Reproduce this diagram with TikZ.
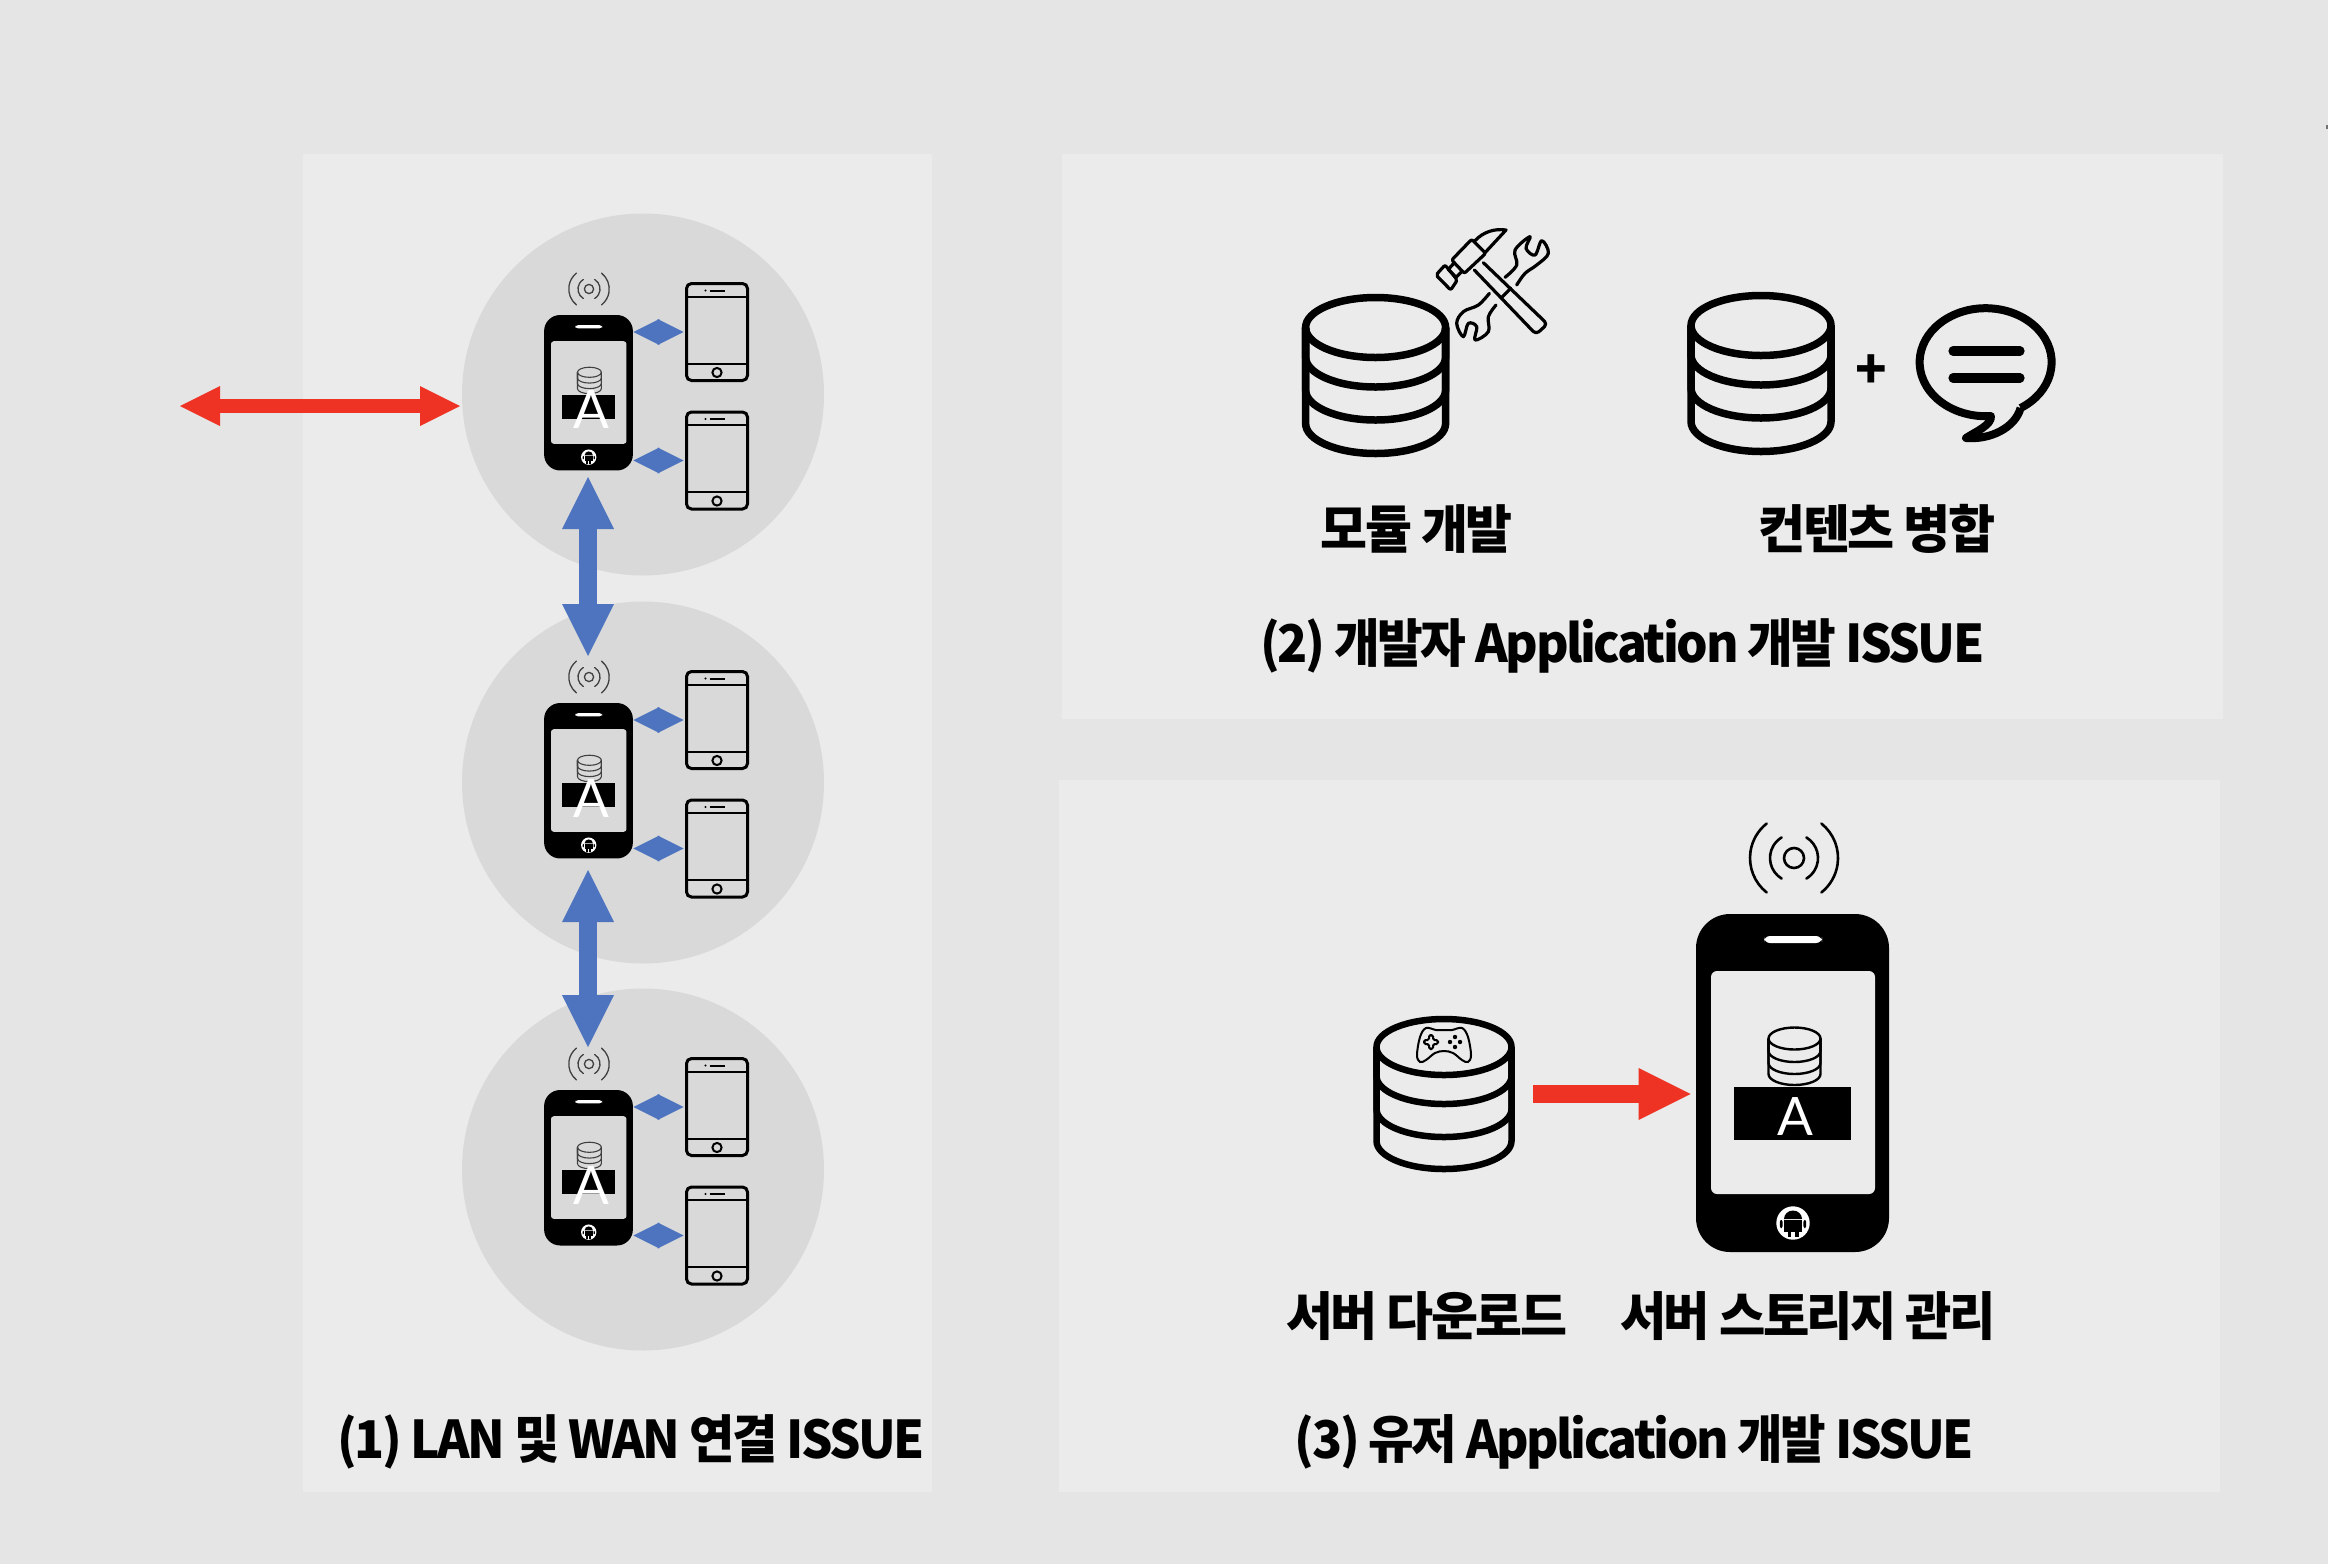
\documentclass[tikz,border=0pt]{standalone}
\usepackage{fontspec}
\usepackage{graphicx}
\usetikzlibrary{arrows.meta,calc}
\newfontfamily\kr{Noto Sans CJK KR}[LetterSpace=-5.0]
\newfontfamily\afont{Lato}
\definecolor{bgc}{HTML}{E5E5E5}
\definecolor{panelc}{HTML}{EBEBEB}
\definecolor{circc}{HTML}{D9D9D9}
\definecolor{bluec}{HTML}{4E74C0}
\definecolor{redc}{HTML}{EE3224}
\newcommand\fitw[2]{\resizebox{\dimexpr #1pt/2\relax}{\height}{#2}}
\tikzset{
  panel/.style={fill=panelc,draw=none},
  bubblecirc/.style={circle,fill=circc,draw=none,minimum size=181pt,inner sep=0pt},
  phonebody/.style={rectangle,fill=black,draw=none,inner sep=0pt},
  tabletbody/.style={rectangle,draw=black,line width=1.5pt,rounded corners=2.5pt,minimum width=30.5pt,minimum height=#1,inner sep=0pt},
  title/.style={anchor=base,text=black,font=\kr\bfseries\fontsize{26pt}{30pt}\selectfont,inner sep=0pt},
  letterA/.style={text=white,font=\afont\fontsize{26.5pt}{30pt}\selectfont,inner sep=0pt},
  bigblue/.style={draw=bluec,line width=9pt,{Triangle[length=26pt,width=26pt,line width=0pt,fill=bluec]}-{Triangle[length=26pt,width=26pt,line width=0pt,fill=bluec]}},
  smallblue/.style={draw=bluec,line width=0.3pt,{Triangle[length=13pt,width=13pt,line width=0pt,fill=bluec]}-{Triangle[length=13pt,width=13pt,line width=0pt,fill=bluec]}},
  redleft/.style={draw=redc,line width=7pt,{Triangle[length=20pt,width=20pt,line width=0pt,fill=redc]}-{Triangle[length=20pt,width=20pt,line width=0pt,fill=redc]}},
  redbig/.style={draw=redc,line width=9pt,-{Triangle[length=26pt,width=26pt,line width=0pt,fill=redc]}},
}
% database icon: cx, cy, rx, ry, line width (px), colour, band offsets
\newcommand\dbicon[7]{%
  \draw[line width={#5*0.5pt},draw=#6] (#1,#2) ellipse[x radius=#3,y radius=#4];
  \foreach \o in {#7}{%
    \draw[line width={#5*0.5pt},draw=#6] (#1-#3,#2) -- (#1-#3,#2+\o) arc[start angle=180,end angle=0,x radius=#3,y radius=#4] -- (#1+#3,#2);
  }%
}
% radio waves: cx, cy, scale, line width px, colour
\newcommand\signal[5]{%
  \begin{scope}[shift={(#1,#2)},scale=#3,draw=#5,line width={#4*0.5pt},line cap=round]
    \draw (0,0) circle[radius=10];
    \draw (0,0) ++(121:24) arc[start angle=121,end angle=239,radius=24];
    \draw (0,0) ++(-59:24) arc[start angle=-59,end angle=59,radius=24];
    \draw (0,0) ++(128.5:44) arc[start angle=128.5,end angle=231.5,radius=44];
    \draw (0,0) ++(-51.5:44) arc[start angle=-51.5,end angle=51.5,radius=44];
  \end{scope}%
}
% phone: name, cx, top, scale, corner radius, screen colour, db lw, db colour
\newcommand\phone[8]{%
  \node[phonebody,rounded corners=#5,minimum width={#4*96.5pt},minimum height={#4*169pt}] (#1) at (#2,#3+#4*169) {};
  \begin{scope}[shift={(#2,#3)},scale=#4]
    \fill[white,rounded corners={#4*3pt}] (-28.5,22) rectangle (29.5,29);
    \fill[#6,rounded corners={#4*3pt}] (-81.5,57) rectangle (82.5,280);
    \fill[black] (-58.5,173) rectangle (58.5,226);
    \dbicon{2}{124.5}{26}{11}{#7}{#8}{12.5,24.5,35.5}
    \begin{scope}[shift={(0.5,309)}]
      \fill[white] (0,0) circle[radius=16.7];
      \fill[black] (-9,-4) arc[start angle=180,end angle=360,x radius=9,y radius=8.5] -- cycle;
      \fill[black] (-9,-2.6) rectangle (9,8.5);
      \fill[black,rounded corners={#4*1pt}] (-13.2,-3) rectangle (-10.4,5);
      \fill[black,rounded corners={#4*1pt}] (10.4,-3) rectangle (13.2,5);
      \fill[black] (-5.5,8) rectangle (-1.6,14);
      \fill[black] (1.6,8) rectangle (5.5,14);
    \end{scope}
  \end{scope}%
}
% tablet: name, cx, cy, height px
\newcommand\tablet[4]{%
  \node[tabletbody={#4*0.5pt}] (#1) at (#2,#3) {};
  \begin{scope}[shift={(#2,#3)},line width=1pt,draw=black]
    \draw (-30.5,{-#4/2+13}) -- (30.5,{-#4/2+13});
    \draw (-30.5,{#4/2-17}) -- (30.5,{#4/2-17});
    \fill (-11.5,{-#4/2+7}) circle[radius=1.2];
    \draw (-7.5,{-#4/2+7}) -- (7.5,{-#4/2+7});
    \draw (0,{#4/2-8}) circle[radius=4.6];
  \end{scope}%
}
% one LAN group: suffix, vertical offset
\newcommand\langroup[2]{%
  \node[bubblecirc] (c#1) at (643,394.5+#2) {};
  \signal{589}{289+#2}{0.46}{1.3}{black!75}
  \phone{p#1}{588.5}{315+#2}{0.46}{8pt}{circc}{1.1}{black!75}
  \node[letterA] (a#1) at (591,410+#2) {A};
  \tablet{ta#1}{717}{332+#2}{97}
  \tablet{tb#1}{717}{460.5+#2}{97}
  \draw[smallblue] (p#1.east |- ta#1.west) -- ([xshift=-0.7pt]ta#1.west);
  \draw[smallblue] (p#1.east |- tb#1.west) -- ([xshift=-0.7pt]tb#1.west);
}
\begin{document}
\begin{tikzpicture}[x=0.5pt,y=-0.5pt]
\useasboundingbox (0,0) rectangle (2328,1564);
\fill[bgc] (0,0) rectangle (2328,1564);
\fill[black!55] (2326,125) rectangle (2328,129);
\fill[panel] (303,154) rectangle (932,1492);
\fill[panel] (1062,154) rectangle (2223,719);
\fill[panel] (1059,780) rectangle (2220,1492);

% panel 1
\langroup{1}{0}
\langroup{2}{388}
\langroup{3}{775}
\coordinate (w1) at (180,406);
\coordinate (w2) at (460,406);
\draw[redleft] (w1) -- (w2);
\coordinate (u1) at (588,477);
\coordinate (u2) at (588,656);
\coordinate (u3) at (588,870);
\coordinate (u4) at (588,1047);
\draw[bigblue] (u1) -- (u2);
\draw[bigblue] (u3) -- (u4);
\node[title] (t1) at (631,1458) {\fitw{587}{(1) LAN 및 WAN 연결 ISSUE}};

% panel 2
\dbicon{1375.6}{327.5}{70}{30}{7.5}{black}{29.5,62.5,96}
\dbicon{1761}{325.5}{70}{30}{7.5}{black}{29.5,62.5,96}
\begin{scope}[shift={(1420,220)},x=0.1667pt,y=-0.1667pt,line width=1.6pt,line join=round,line cap=round]
  \draw[rounded corners=1pt] (155,58) -- (197,100) -- (133,160) -- (95,120) -- cycle;
  \draw (165,62) .. controls (190,35) and (225,25) .. (258,30) -- (195,98);
  \draw (103,128) -- (85,148) -- (108,172) -- (127,153);
  \draw[rounded corners=1pt] (75,135) -- (112,180) -- (92,210) -- (48,165) -- cycle;
  \draw[rounded corners=2pt] (190,128) -- (382,312) -- (348,343) -- (163,150);
  \draw (245,232) -- (272,205);
  \draw plot[smooth,tension=0.6] coordinates {(255,172) (290,135) (285,90) (330,50) (318,85) (345,105) (365,62) (385,100) (350,135) (315,160) (290,195)};
  \draw plot[smooth,tension=0.6] coordinates {(208,220) (175,255) (130,275) (110,310) (130,350) (145,310) (170,320) (165,360) (205,335) (205,290) (228,255)};
\end{scope}
\node[title,font=\kr\bfseries\fontsize{26pt}{30pt}\selectfont,anchor=center] (plus) at (1871,372) {+};
\draw[line width=4pt,line join=round] (2020.6,408) arc[start angle=58,end angle=-274.6,x radius=66,y radius=54]
  .. controls (1992,425) and (1975,432) .. (1966,438)
  .. controls (1990,440) and (2015,428) .. (2020.6,408);
\draw[line width=4.6pt,line cap=round] (1953,351) -- (2020,351);
\draw[line width=4.6pt,line cap=round] (1953,378) -- (2020,378);
\node[title] (l1) at (1416.5,548) {\fitw{192}{모듈 개발}};
\node[title] (l2) at (1877,548) {\fitw{237}{컨텐츠 병합}};
\node[title] (t2) at (1622.5,662) {\fitw{724}{(2) 개발자 Application 개발 ISSUE}};

% panel 3
\dbicon{1444}{1047}{67.5}{28}{6.5}{black}{29,62,94}
\begin{scope}[shift={(1444,1045)},line width=1pt]
  \draw plot[smooth cycle,tension=0.6] coordinates {(-18,-17) (-8,-15) (0,-15) (8,-15) (18,-17) (24,-8) (27,10) (24,17) (18,15) (9,8) (0,6) (-9,8) (-18,15) (-24,17) (-27,10) (-24,-8)};
  \draw[rounded corners=0.8pt] (-15,-10) -- (-11,-10) -- (-11,-5) -- (-6,-5) -- (-6,-1) -- (-11,-1) -- (-11,4) -- (-15,4) -- (-15,-1) -- (-20,-1) -- (-20,-5) -- (-15,-5) -- cycle;
  \fill (11,-8) circle[radius=2.2];
  \fill (11,2) circle[radius=2.2];
  \fill (6,-3) circle[radius=2.2];
  \fill (16,-3) circle[radius=2.2];
\end{scope}
\signal{1794}{858}{1}{2.6}{black}
\phone{pb}{1792.5}{914}{1}{17pt}{panelc}{2.4}{black}
\node[letterA] (ab) at (1795,1116) {A};
\coordinate (r1) at (1533,1094);
\coordinate (r2) at (pb.west |- r1);
\draw[redbig,shorten >=2.5pt] (r1) -- (r2);
\node[title] (l3) at (1426.5,1335) {\fitw{281}{서버 다운로드}};
\node[title] (l4) at (1808,1335) {\fitw{376}{서버 스토리지 관리}};
\node[title] (t3) at (1634.5,1458) {\fitw{679}{(3) 유저 Application 개발 ISSUE}};
\end{tikzpicture}
\end{document}
